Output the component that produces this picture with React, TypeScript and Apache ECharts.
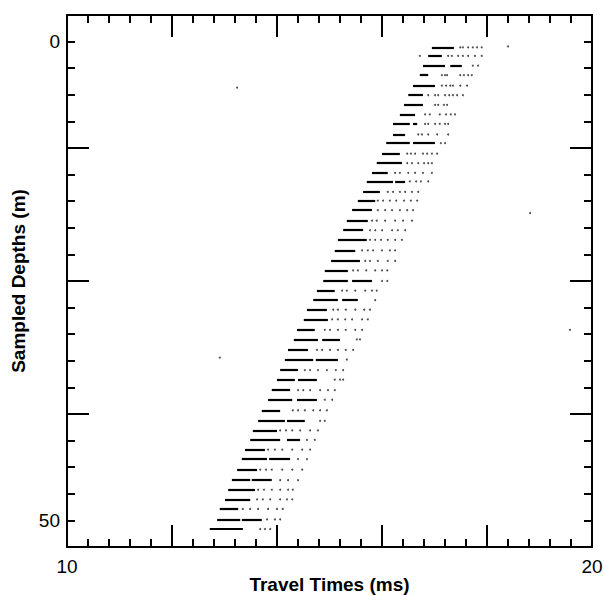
import React, { useEffect, useRef } from "react";
import * as echarts from "echarts";

// Sampled depth of each trace row (m)
const depths = [0.6, 1.5, 2.5, 3.5, 4.6, 5.6, 6.6, 7.6, 8.6, 9.7, 10.6, 11.7, 12.7, 13.7, 14.6, 15.7, 16.6, 17.6, 18.7, 19.7, 20.7, 21.8, 22.9, 23.9, 25.0, 26.0, 27.0, 28.0, 29.0, 30.1, 31.1, 32.2, 33.2, 34.3, 35.3, 36.4, 37.4, 38.5, 39.6, 40.6, 41.6, 42.6, 43.6, 44.7, 45.8, 46.8, 47.8, 48.8, 49.9, 50.9];

// Dark arrival segments per row: [start, end, start2?, end2?] (ms)
const arrivalSegments: number[][] = [
  [16.95, 17.37],
  [16.88, 17.14],
  [16.78, 17.2, 17.3, 17.52],
  [16.72, 16.88],
  [16.59, 17.01],
  [16.5, 16.78],
  [16.42, 16.78],
  [16.34, 16.63],
  [16.21, 16.53, 16.59, 16.67],
  [16.21, 16.44],
  [16.08, 16.53, 16.59, 17.01],
  [16.0, 16.34],
  [15.9, 16.38],
  [15.81, 16.11],
  [15.71, 16.21, 16.25, 16.44],
  [15.64, 15.96],
  [15.54, 15.87],
  [15.43, 15.81],
  [15.33, 15.73],
  [15.26, 15.64],
  [15.16, 15.71],
  [15.1, 15.49],
  [15.03, 15.58],
  [14.91, 15.35],
  [14.88, 15.35, 15.43, 15.81],
  [14.76, 15.1],
  [14.69, 15.16, 15.24, 15.54],
  [14.57, 14.95],
  [14.51, 14.97],
  [14.38, 14.72],
  [14.32, 14.78, 14.86, 15.2],
  [14.21, 14.59],
  [14.15, 14.69, 14.74, 15.16],
  [14.06, 14.4],
  [14.0, 14.34, 14.4, 14.76],
  [13.9, 14.25],
  [13.83, 14.29, 14.38, 14.76],
  [13.71, 14.06],
  [13.64, 14.15, 14.19, 14.53],
  [13.54, 14.0],
  [13.49, 14.06, 14.19, 14.44],
  [13.39, 13.77],
  [13.33, 13.81, 13.85, 14.25],
  [13.24, 13.62],
  [13.14, 13.49, 13.52, 13.9],
  [13.07, 13.58],
  [13.01, 13.49],
  [12.91, 13.26],
  [12.86, 13.3, 13.33, 13.71],
  [12.72, 13.35],
];

// Faint later samples per row (ms)
const trailingSamples: number[][] = [
  [17.49, 17.54, 17.64, 17.73, 17.81, 17.9],
  [16.72, 17.26, 17.33, 17.45, 17.54, 17.64, 17.77, 17.9],
  [17.73, 17.83],
  [17.14, 17.2, 17.24, 17.49, 17.56, 17.64, 17.71],
  [17.14, 17.22, 17.3, 17.35, 17.49, 17.62],
  [16.88, 17.01, 17.07, 17.2, 17.28, 17.35, 17.43, 17.54],
  [17.01, 17.07, 17.18, 17.24],
  [16.82, 16.91, 17.1, 17.22, 17.31, 17.39],
  [16.82, 16.88, 17.01, 17.1, 17.2, 17.26],
  [16.69, 16.76, 16.88, 17.05, 17.26],
  [17.12, 17.2],
  [16.48, 16.55, 16.63, 16.78, 16.86, 16.95, 17.05],
  [16.48, 16.57, 16.69, 16.8, 16.88, 16.95],
  [16.25, 16.34, 16.5, 16.63, 16.78, 16.95],
  [16.53, 16.65, 16.74, 16.88],
  [16.11, 16.21, 16.34, 16.44, 16.57, 16.69],
  [15.92, 16.02, 16.15, 16.27, 16.42, 16.55, 16.67],
  [15.92, 16.06, 16.19, 16.34, 16.48, 16.59],
  [15.81, 15.9, 16.06, 16.25, 16.4, 16.57],
  [15.77, 15.87, 16.0, 16.19, 16.3, 16.44],
  [15.77, 15.87, 15.98, 16.11, 16.25, 16.38],
  [15.62, 15.73, 15.83, 16.0, 16.15, 16.25],
  [15.68, 15.77, 15.92, 16.11, 16.25],
  [15.45, 15.54, 15.7, 15.87, 16.0, 16.1],
  [16.0, 16.1],
  [15.24, 15.33, 15.49, 15.68, 15.81, 15.9],
  [15.87],
  [15.07, 15.16, 15.31, 15.49, 15.66, 15.77],
  [15.05, 15.16, 15.3, 15.43, 15.62, 15.73],
  [14.91, 15.01, 15.16, 15.31, 15.49, 15.62],
  [15.52, 15.58],
  [14.76, 14.86, 15.01, 15.16, 15.31, 15.45],
  [15.33],
  [14.53, 14.63, 14.78, 14.95, 15.12, 15.26],
  [15.1, 15.2, 15.26],
  [14.4, 14.5, 14.63, 14.82, 14.97, 15.1],
  [14.91, 15.05],
  [14.3, 14.4, 14.53, 14.69, 14.82, 14.95],
  [14.82, 14.91],
  [14.06, 14.17, 14.29, 14.44, 14.63, 14.78],
  [14.57, 14.72],
  [13.83, 13.96, 14.1, 14.29, 14.48, 14.63],
  [14.4, 14.57],
  [13.68, 13.79, 13.9, 14.1, 14.29, 14.48],
  [14.06, 14.21, 14.4],
  [13.64, 13.75, 13.9, 14.06, 14.21, 14.3],
  [13.62, 13.73, 13.87, 14.06, 14.19, 14.29],
  [13.35, 13.49, 13.64, 13.83, 14.0, 14.11],
  [13.81, 13.96, 14.06],
  [13.68, 13.77, 13.87],
];

// Isolated specks [time (ms), depth (m)]
const straySamples: number[][] = [
  [18.4, 0.5],
  [13.24, 4.8],
  [18.82, 17.9],
  [19.58, 30.1],
  [12.91, 33.0],
];

const xTickLabels = [10, 20];
const yTickLabels = [0, 50];

const FONT = "'Liberation Sans', Arial, Helvetica, sans-serif";

export default function App() {
  const ref = useRef<HTMLDivElement>(null);

  useEffect(() => {
    if (!ref.current) return;
    const chart = echarts.init(ref.current, undefined, { renderer: "svg" });

    const segData: any[] = [];
    arrivalSegments.forEach((seg, i) => {
      for (let k = 0; k + 1 < seg.length; k += 2) {
        segData.push({ coords: [[seg[k], depths[i]], [seg[k + 1], depths[i]]] });
      }
    });
    const dotData: number[][] = [];
    trailingSamples.forEach((row, i) => {
      row.forEach((t) => dotData.push([t, depths[i]]));
    });
    straySamples.forEach((p) => dotData.push(p));

    const step = 50 / 18;
    const frameLine = { show: true, onZero: false, lineStyle: { color: "#000", width: 2 } };
    const majorTick = { show: true, inside: true, length: 22, lineStyle: { color: "#000", width: 2 } };
    const minorTick = { show: true, splitNumber: 5, length: 8, lineStyle: { color: "#000", width: 2 } };
    const labelStyle = { color: "#000", fontSize: 19, fontFamily: FONT };

    const xBase = {
      type: "value",
      min: 10,
      max: 20,
      interval: 2,
      axisLine: frameLine,
      axisTick: majorTick,
      minorTick,
      splitLine: { show: false },
      minorSplitLine: { show: false },
    };
    const yFrame = {
      type: "value",
      min: 0,
      max: 20,
      interval: 5,
      inverse: true,
      axisLine: frameLine,
      axisTick: majorTick,
      minorTick,
      axisLabel: { show: false },
      splitLine: { show: false },
      minorSplitLine: { show: false },
    };

    chart.setOption({
      animation: false,
      backgroundColor: "#fff",
      grid: { left: 67, right: 12, top: 15, bottom: 49, containLabel: false, outerBoundsMode: "none" },
      xAxis: [
        {
          ...xBase,
          position: "bottom",
          axisLabel: {
            ...labelStyle,
            margin: 10,
            formatter: (v: number) => (xTickLabels.some((t) => Math.abs(t - v) < 1e-6) ? String(Math.round(v)) : ""),
          },
          name: "Travel Times (ms)",
          nameLocation: "middle",
          nameGap: 28,
          nameMoveOverlap: false,
          nameTextStyle: { color: "#000", fontSize: 19, fontWeight: "bold", fontFamily: FONT },
        },
        { ...xBase, position: "top", axisLabel: { show: false } },
      ],
      yAxis: [
        {
          type: "value",
          min: -step,
          max: 50 + step,
          interval: step,
          inverse: true,
          position: "left",
          axisLine: { show: false, onZero: false },
          axisTick: { show: false },
          splitLine: { show: false },
          axisLabel: {
            ...labelStyle,
            margin: 7,
            formatter: (v: number) => {
              const hit = yTickLabels.find((t) => Math.abs(t - v) < 1e-6);
              return hit === undefined ? "" : String(hit);
            },
          },
          name: "Sampled Depths (m)",
          nameLocation: "middle",
          nameGap: 39,
          nameMoveOverlap: false,
          nameTextStyle: { color: "#000", fontSize: 19, fontWeight: "bold", fontFamily: FONT },
        },
        { ...yFrame, position: "left" },
        { ...yFrame, position: "right" },
      ],
      series: [
        {
          type: "lines",
          coordinateSystem: "cartesian2d",
          xAxisIndex: 0,
          yAxisIndex: 0,
          data: segData,
          lineStyle: { color: "#000", width: 2.2, opacity: 1, curveness: 0 },
          silent: true,
        },
        {
          type: "scatter",
          xAxisIndex: 0,
          yAxisIndex: 0,
          data: dotData,
          symbol: "circle",
          symbolSize: 2,
          itemStyle: { color: "#222" },
          silent: true,
        },
      ],
    });

    return () => chart.dispose();
  }, []);

  return <div ref={ref} style={{ position: "absolute", left: 0, top: 0, width: 604, height: 596 }} />;
}
